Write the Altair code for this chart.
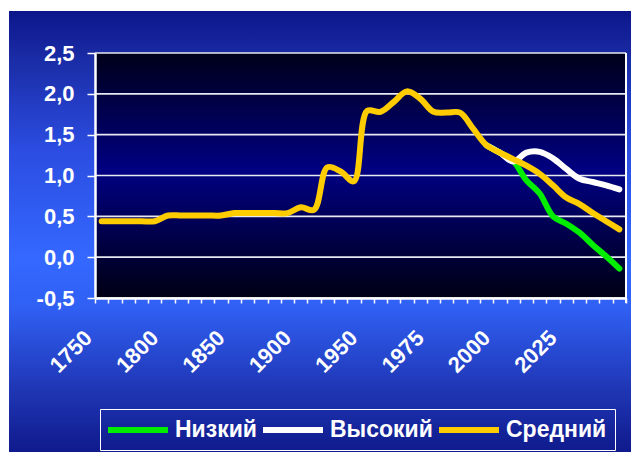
import json
import altair as alt
import pandas as pd

# ---------------- data ----------------
categories = ["1750", "1760", "1770", "1780", "1790", "1800", "1810", "1820", "1830", "1840",
              "1850", "1860", "1870", "1880", "1890", "1900", "1910", "1920", "1930", "1940",
              "1950", "1955", "1960", "1965", "1970", "1975", "1980", "1985", "1990", "1995",
              "2000", "2005", "2010", "2015", "2020", "2025", "2030", "2035", "2040", "2045"]
label_step = 5

medium = [0.44, 0.44, 0.44, 0.44, 0.44, 0.51, 0.51, 0.51, 0.51, 0.51,
          0.54, 0.54, 0.54, 0.54, 0.54, 0.61, 0.58, 1.10, 1.05, 0.93,
          1.79, 1.78, 1.90, 2.03, 1.94, 1.78, 1.77, 1.77, 1.57, 1.37,
          1.28, 1.20, 1.12, 1.02, 0.88, 0.73, 0.65, 0.54, 0.44, 0.34]
low = [None] * 29 + [1.37, 1.28, 1.18, 0.94, 0.78, 0.50, 0.41, 0.30, 0.15, 0.01, -0.14]
high = [None] * 29 + [1.37, 1.28, 1.17, 1.28, 1.29, 1.21, 1.08, 0.96, 0.92, 0.88, 0.83]

series_names = ["Низкий", "Высокий", "Средний"]
series_colors = ["#00ee00", "#ffffff", "#ffcc00"]
y_ticks = [-0.5, 0.0, 0.5, 1.0, 1.5, 2.0, 2.5]

rows = []
for name, vals in zip(series_names, [low, high, medium]):
    for i, v in enumerate(vals):
        if v is not None:
            rows.append({"series": name, "pos": i + 0.5, "year": categories[i], "value": v})
df = pd.DataFrame(rows)

# ---------------- layout ----------------
W, H = 531, 245
PAD = {"left": 87, "top": 45, "right": 5, "bottom": 154}
FONT = "Liberation Sans"
n_cat = len(categories)

x_label_expr = (
    f"datum.value % {label_step} === 0 && datum.value < {n_cat} ? "
    f"{json.dumps(categories)}[datum.value] : ''"
)
x_enc = alt.X(
    "pos:Q",
    scale=alt.Scale(domain=[0, n_cat], nice=False, zero=False),
    axis=alt.Axis(
        title=None, values=list(range(n_cat + 1)), labelExpr=x_label_expr,
        labelAngle=-45, labelAlign="right", labelBaseline="middle",
        labelPadding=31, labelOffset=-7, tickSize=5, tickWidth=1.5,
        domainWidth=2.5, labelOverlap=False, labelFlush=False, labelBound=False,
        zindex=1,
    ),
)
y_enc = alt.Y(
    "value:Q",
    scale=alt.Scale(domain=[-0.5, 2.5], nice=False, zero=False),
    axis=alt.Axis(
        title=None, values=y_ticks,
        labelExpr="replace(replace(format(datum.value, '.1f'), '.', ','), '\u2212', '-')",
        tickSize=8, tickWidth=1.5, domainWidth=2.5, labelPadding=13, zindex=1,
    ),
)
color_enc = alt.Color(
    "series:N",
    scale=alt.Scale(domain=series_names, range=series_colors),
    legend=alt.Legend(
        title=None, orient="none", legendX=5, legendY=356, direction="horizontal",
        symbolType="M-3,0H3", symbolSize=400, symbolStrokeWidth=6, symbolOffset=17,
        labelOffset=24, labelFont=FONT, labelFontWeight="bold", labelFontSize=23,
        labelColor="white", labelLimit=300, strokeColor="white", padding=8,
        columnPadding=-6, zindex=1,
    ),
)

one = pd.DataFrame({"k": [0]})

outer_bg = alt.Chart(one).mark_rect(
    fill=alt.LinearGradient(
        gradient="linear", x1=0, y1=0, x2=0, y2=1,
        stops=[
            alt.GradientStop(offset=0.0, color="#0c168a"),
            alt.GradientStop(offset=0.11, color="#1a2ca6"),
            alt.GradientStop(offset=0.31, color="#2b4ce0"),
            alt.GradientStop(offset=0.56, color="#3468ff"),
            alt.GradientStop(offset=0.67, color="#3060f4"),
            alt.GradientStop(offset=0.86, color="#1f36b4"),
            alt.GradientStop(offset=1.0, color="#0f1a8c"),
        ],
    )
).encode(x=alt.value(-86), x2=alt.value(W + PAD["right"]), y=alt.value(-42), y2=alt.value(H + PAD["bottom"]))

plot_bg = alt.Chart(one).mark_rect(
    fill=alt.LinearGradient(
        gradient="linear", x1=0, y1=0, x2=0, y2=1,
        stops=[
            alt.GradientStop(offset=0.0, color="#00001a"),
            alt.GradientStop(offset=0.48, color="#000082"),
            alt.GradientStop(offset=1.0, color="#000014"),
        ],
    )
).encode(x=alt.value(0), x2=alt.value(W), y=alt.value(0), y2=alt.value(H))

grid = alt.Chart(pd.DataFrame({"value": y_ticks})).mark_rule(
    color="#e8e8f0", strokeWidth=1.6
).encode(y=y_enc)

right_border = alt.Chart(one).mark_rule(color="white", strokeWidth=2).encode(
    x=alt.value(W), y=alt.value(0), y2=alt.value(H + 5)
)

lines = [
    alt.Chart(df).transform_filter(alt.datum.series == name).mark_line(
        strokeWidth=6, strokeCap="round", strokeJoin="round", interpolate="catmull-rom"
    ).encode(x=x_enc, y=y_enc, color=color_enc)
    for name in series_names
]

chart = alt.layer(outer_bg, plot_bg, grid, right_border, *lines).properties(
    width=W, height=H, padding=PAD,
    autosize=alt.AutoSizeParams(type="none"),
    background="white",
).configure_axis(
    labelFont=FONT, labelFontWeight="bold", labelFontSize=22, labelColor="white",
    domainColor="white", tickColor="white", grid=False,
).configure_view(stroke="transparent")

chart.save("out.html", embed_options={"renderer": "svg", "actions": False})
